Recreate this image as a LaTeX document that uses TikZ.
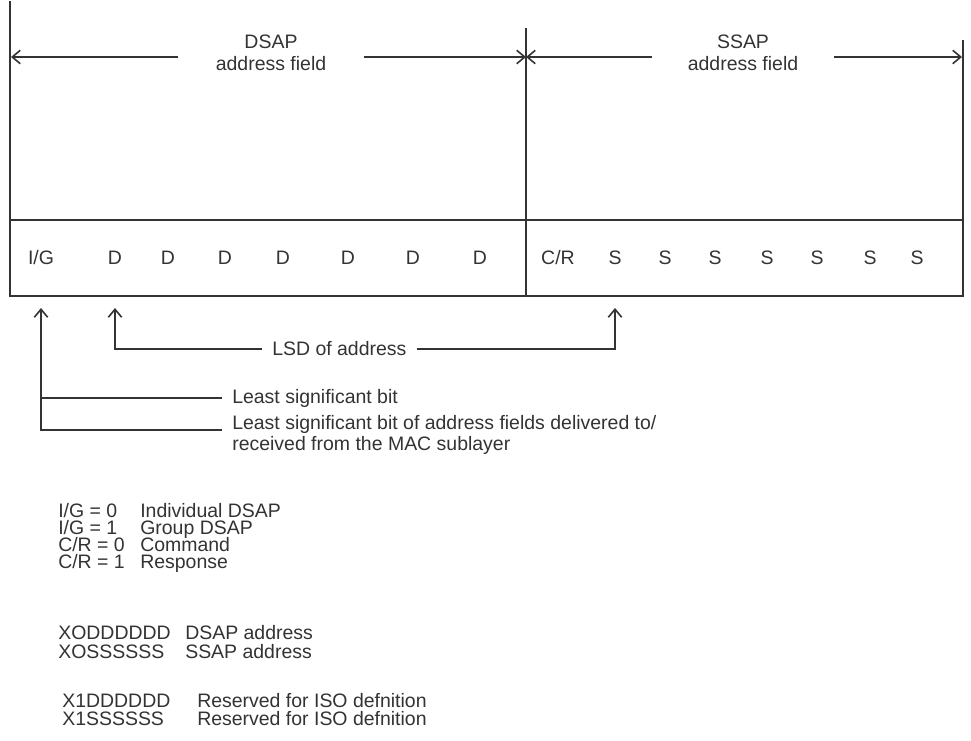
\documentclass[tikz,border=0pt]{standalone}
\usepackage{fontspec}
\setmainfont{Liberation Sans}
\usetikzlibrary{arrows.meta,positioning}
\definecolor{ink}{HTML}{333333}

\begin{document}
\begin{tikzpicture}[
x=0.75pt, y=-0.75pt,
font=\fontsize{14.6}{16}\selectfont,
every node/.style={text=ink},
frame/.style={draw=ink, line width=1.2pt},
arrow/.style={draw=ink, line width=1.2pt, -{Straight Barb[length=6pt,width=10pt]}},
bit/.style={inner sep=0pt},
field/.style={align=center, inner sep=0pt, font=\fontsize{14.6}{16.5}\selectfont},
note/.style={anchor=west, inner xsep=7.5pt, inner ysep=0pt, align=left},
legend/.style={anchor=base west, inner sep=0pt}
]
\useasboundingbox (0,0) rectangle (971,740);

% frame of the two address fields
\draw[frame] (10,1) -- (10,296) -- (963,296) -- (963,40);
\draw[frame] (10,220) -- (963,220);
\draw[frame] (526,28) -- (526,296);

% field widths
\coordinate (lend) at (11,57);
\coordinate (mend) at (526,57);
\coordinate (rend) at (962,57);
\node[field, minimum width=138.75pt] (dsap) at (271,53) {DSAP\\address field};
\node[field, minimum width=135.75pt] (ssap) at (743,53) {SSAP\\address field};
\draw[arrow] (dsap.west |- lend) -- (lend);
\draw[arrow] (dsap.east |- mend) -- (mend);
\draw[arrow] (ssap.west |- mend) -- (mend);
\draw[arrow] (ssap.east |- rend) -- (rend);

% bits
\node[bit] (ig) at (41,258) {I/G};
\foreach \x [count=\i] in {115,168,225,283,348,413,480}
  \node[bit] (d\i) at (\x,258) {D};
\node[bit] (cr) at (558,258) {C/R};
\foreach \x [count=\i] in {615,665,715,767,817,870,917}
  \node[bit] (s\i) at (\x,258) {S};

% pointers below the bits
\coordinate (tiprow) at (0,308);
\node[note] (lsd) at (262,349) {LSD of address};
\draw[arrow] (lsd.west) -| (d1 |- tiprow);
\draw[arrow] (lsd.east) -| (s1 |- tiprow);

\node[note] (lsb) at (222,398) {Least significant bit};
\node[note, font=\fontsize{14.6}{16}\selectfont] (lsbmac) at (222,435)
  {Least significant bit of address fields delivered to/\\received from the MAC sublayer};
\draw[arrow] ([yshift=3.75pt]lsbmac.west) -| (ig |- tiprow);
\draw[frame] (lsb.west) -- (lsb.west -| ig);

% legend
\foreach \y/\lbl/\txt [count=\i] in
  {517/{I/G = 0}/Individual DSAP, 534/{I/G = 1}/Group DSAP,
   551/{C/R = 0}/Command, 568/{C/R = 1}/Response} {
  \node[legend] (code\i) at (58,\y) {\lbl};
  \node[legend] (codetxt\i) at (140,\y) {\txt};
}
\foreach \y/\lbl/\txt [count=\i] in
  {639/XODDDDDD/DSAP address, 658/XOSSSSSS/SSAP address} {
  \node[legend] (addr\i) at (58,\y) {\lbl};
  \node[legend] (addrtxt\i) at (185,\y) {\txt};
}
\foreach \y/\lbl [count=\i] in {707/X1DDDDDD, 725/X1SSSSSS} {
  \node[legend] (iso\i) at (62,\y) {\lbl};
  \node[legend] (isotxt\i) at (197,\y) {Reserved for ISO defnition};
}

\end{tikzpicture}
\end{document}
